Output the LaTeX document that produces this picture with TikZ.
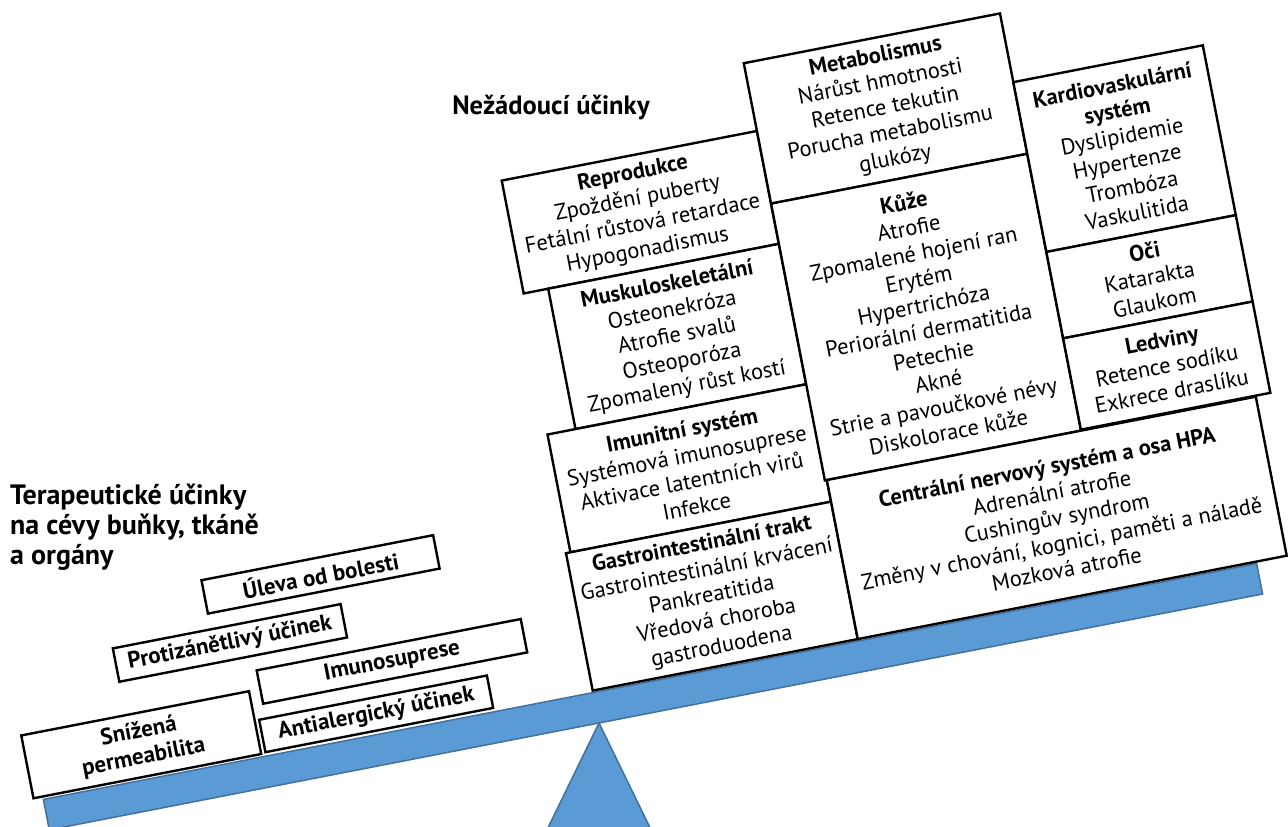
\documentclass[tikz,border=0pt]{standalone}
\usepackage{fontspec}
\setmainfont{PT Sans}
\definecolor{beamblue}{HTML}{5B9BD5}
\definecolor{beamedge}{HTML}{41719C}
\begin{document}
\begin{tikzpicture}[x=1pt,y=1pt,
  box/.style={draw=black, line width=2.4pt, fill=white, align=center, inner sep=0pt,
    font=\fontsize{22.5}{26}\selectfont},
  tbox/.style={box, font=\bfseries\fontsize{23}{26}\selectfont},
  beamstyle/.style={fill=beamblue, draw=beamedge, line width=1.5pt},
  heading/.style={font=\bfseries\fontsize{26.5}{30}\selectfont, inner sep=0pt},
  heading2/.style={font=\bfseries\fontsize{28}{30}\selectfont, inner sep=0pt}]
\useasboundingbox (0,0) rectangle (1288,827);
\clip (0,0) rectangle (1288,827);
% fulcrum
\path[beamstyle] (599,104) -- (674,-50) -- (524,-50) -- cycle;
\begin{scope}[shift={(599,104)}, rotate=11, transform shape]
  % beam
  \path[beamstyle] (-560,0) rectangle (676,31);
  % adverse effects
  \node[box, minimum width=260pt, minimum height=115pt] (repro) at (138,493.5)
    {\textbf{Reprodukce}\\Zpoždění puberty\\Fetální růstová retardace\\Hypogonadismus};
  \node[box, minimum width=235pt, minimum height=143pt] (musk) at (150.5,364.5)
    {\textbf{Muskuloskeletální}\\Osteonekróza\\Atrofie svalů\\Osteoporóza\\Zpomalený růst kostí};
  \node[box, minimum width=265.5pt, minimum height=120pt] (imun) at (137.25,233)
    {\textbf{Imunitní systém}\\Systémová imunosuprese\\Aktivace latentních virů\\Infekce};
  \node[box, minimum width=270pt, minimum height=140pt] (gi) at (135,103)
    {\textbf{Gastrointestinální trakt}\\Gastrointestinální krvácení\\Pankreatitida\\Vředová choroba\\gastroduodena};
  \node[box, minimum width=261pt, minimum height=143pt] (meta) at (398.5,548.5)
    {\textbf{Metabolismus}\\Nárůst hmotnosti\\Retence tekutin\\Porucha metabolismu\\glukózy};
  \node[box, minimum width=261pt, minimum height=282pt] (kuze) at (398.5,336)
    {\textbf{Kůže}\\Atrofie\\Zpomalené hojení ran\\Erytém\\Hypertrichóza\\Periorální dermatitida\\Petechie\\Akné\\Strie a pavoučkové névy\\Diskolorace kůže};
  \node[box, minimum width=193pt, minimum height=173pt] (kardio) at (625.5,463.5)
    {\textbf{Kardiovaskulární}\\\textbf{systém}\\Dyslipidemie\\Hypertenze\\Trombóza\\Vaskulitida};
  \node[box, minimum width=193pt, minimum height=88pt] (oci) at (625.5,333)
    {\textbf{Oči}\\Katarakta\\Glaukom};
  \node[box, minimum width=193pt, minimum height=93pt] (ledv) at (625.5,242.5)
    {\textbf{Ledviny}\\Retence sodíku\\Exkrece draslíku};
  \node[box, minimum width=437pt, minimum height=162pt] (cns) at (488.5,114)
    {\textbf{Centrální nervový systém a osa HPA}\\Adrenální atrofie\\Cushingův syndrom\\Změny v chování, kognici, paměti a náladě\\Mozková atrofie};
  % therapeutic effects
  \node[tbox, minimum width=232pt, minimum height=64pt] (perm) at (-453.5,66)
    {Snížená\\permeabilita};
  \node[tbox, minimum width=232pt, minimum height=33pt] (antial) at (-217,51.5)
    {Antialergický účinek};
  \node[tbox, minimum width=269pt, minimum height=34pt] (imsup) at (-191.5,100)
    {Imunosuprese};
  \node[tbox, minimum width=232pt, minimum height=34pt] (protiz) at (-347,149)
    {Protizánětlivý účinek};
  \node[tbox, minimum width=236pt, minimum height=34pt] (uleva) at (-245,199)
    {Úleva od bolesti};
\end{scope}
\node[heading] (nez) at (551,719) {Nežádoucí účinky};
\node[heading2, align=left, anchor=west] (ter) at (10,300)
  {Terapeutické účinky\\na cévy buňky, tkáně\\a orgány};
\end{tikzpicture}
\end{document}
